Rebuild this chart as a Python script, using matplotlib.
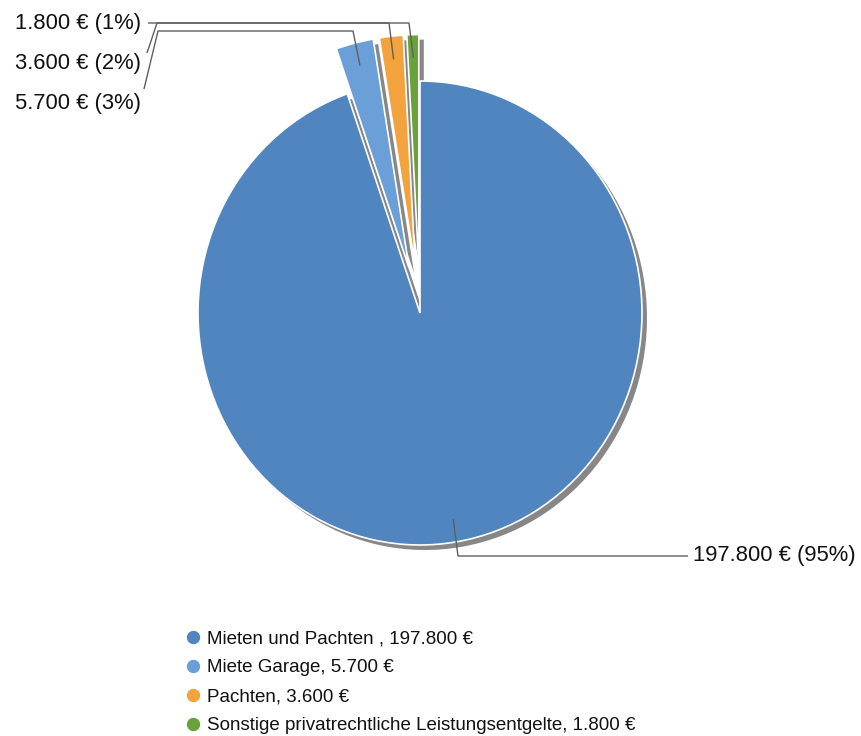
import matplotlib
matplotlib.use("Agg")
import matplotlib.pyplot as plt
from matplotlib.lines import Line2D
import numpy as np

# ---- data ----
categories = ["Mieten und Pachten ", "Miete Garage", "Pachten",
              "Sonstige privatrechtliche Leistungsentgelte"]
values = [197800, 5700, 3600, 1800]
colors = ["#5185BF", "#6B9FD7", "#F2A33D", "#69A239"]
explode = [0.0, 0.2, 0.2, 0.2]   # fraction of the radius

plt.rcParams['font.family'] = ['Liberation Sans', 'DejaVu Sans']

W, H = 862, 736
S = 232 / 222  # vertical stretch of the reference pie


def Y(yp):
    return (H - yp) / S


def eur(v):
    return f"{v:,}".replace(",", ".") + " €"


total = sum(values)
pcts = [round(v / total * 100) for v in values]

fig = plt.figure(figsize=(W / 100, H / 100), dpi=100)
ax = fig.add_axes([0, 0, 1, 1])

cx, cy, R = 420, Y(313), 222
shadow_dx, shadow_dy = 5, 5
expl_abs = [e * R for e in explode]

# shadow
ax.pie(values, explode=expl_abs, colors=["#878787"] * len(values),
       startangle=90, counterclock=False, radius=R,
       center=(cx + shadow_dx, cy - shadow_dy / S),
       wedgeprops=dict(linewidth=0))
# pie
wedges, _ = ax.pie(values, explode=expl_abs, colors=colors,
                   startangle=90, counterclock=False, radius=R,
                   center=(cx, cy),
                   wedgeprops=dict(linewidth=1.2, edgecolor="white"))

ax.set_xlim(0, W)
ax.set_ylim(0, H / S)
ax.set_aspect('auto')
ax.axis('off')


def anchor(w, frac=0.9):
    t = np.deg2rad((w.theta1 + w.theta2) / 2)
    x0, y0 = w.center
    return x0 + frac * w.r * np.cos(t), y0 + frac * w.r * np.sin(t)


labels = [f"{eur(v)} ({p}%)" for v, p in zip(values, pcts)]
line_kw = dict(color="#5f5f5f", linewidth=1.0, solid_capstyle='butt')
fs_lab = 15.8

# elbow paths (pixel layout) and label positions
elbows = [
    [(458, 556), (688, 556)],
    [(353, 31), (158, 31), (144, 89)],
    [(389, 23), (157, 23), (147, 53)],
    [(409, 23), (148, 23)],
]
text_pos = [(693, 556, 'left'), (141, 103, 'right'), (141, 63, 'right'),
            (141, 23, 'right')]

for w, el, (tx, ty, ha), lab in zip(wedges, elbows, text_pos, labels):
    ax0, ay0 = anchor(w)
    xs = [ax0] + [p[0] for p in el]
    ys = [ay0] + [Y(p[1]) for p in el]
    ax.plot(xs, ys, **line_kw)
    ax.text(tx, Y(ty), lab, ha=ha, va='center', fontsize=fs_lab, color="#111111")

handles = [Line2D([0], [0], marker='o', linestyle='none', markersize=8.6,
                  markerfacecolor=c, markeredgecolor=c) for c in colors]
leg_labels = [f"{c}, {eur(v)}" for c, v in zip(categories, values)]
fig.legend(handles, leg_labels, loc='upper left',
           bbox_to_anchor=(186.5 / W, 1 - 630 / H), frameon=False,
           fontsize=13.5, borderpad=0, borderaxespad=0, handlelength=0.7,
           handletextpad=0.4, labelspacing=0.64, labelcolor="#111111")

fig.savefig("out.png", dpi=100)
